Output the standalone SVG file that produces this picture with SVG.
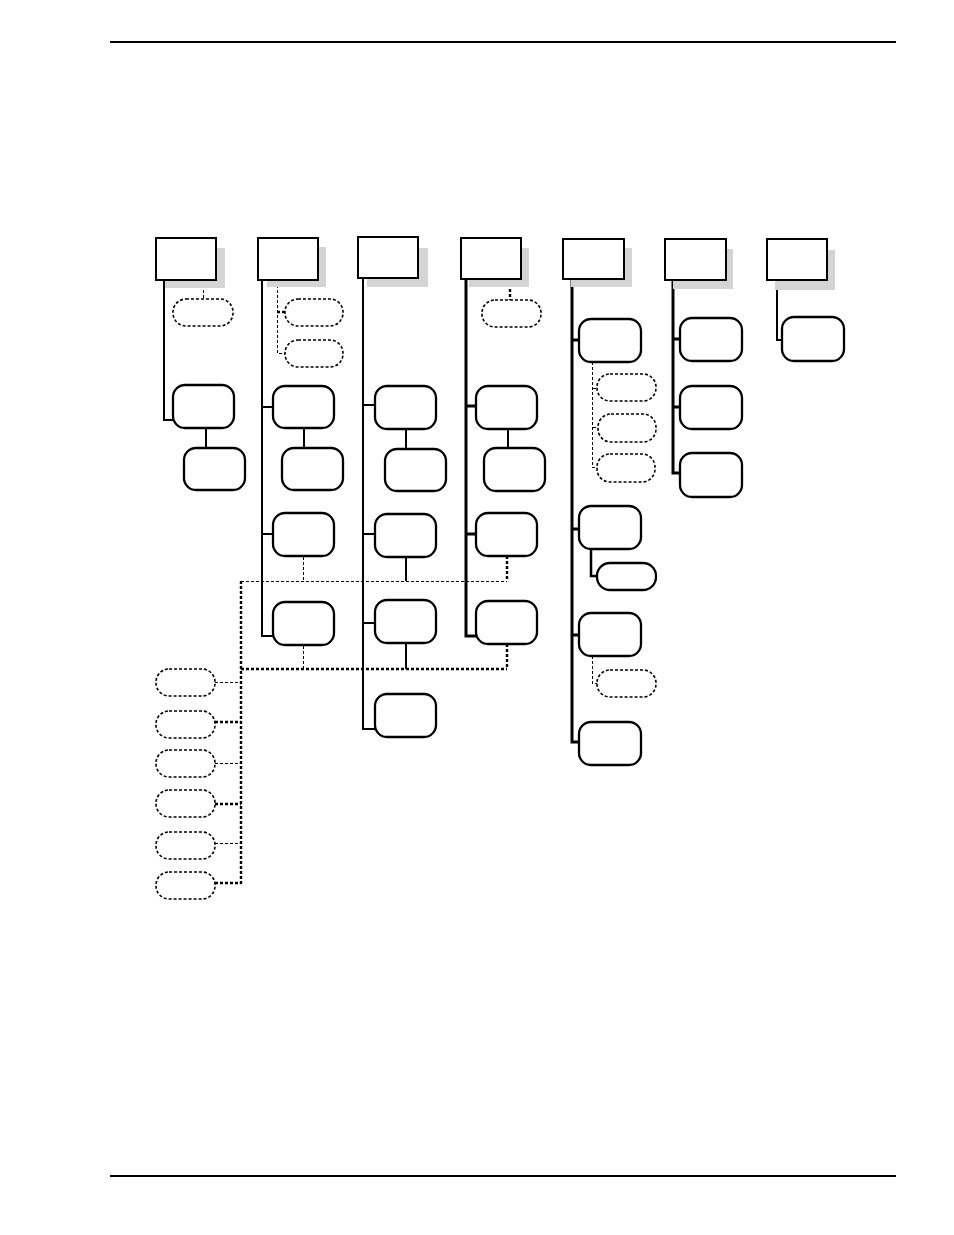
<svg xmlns="http://www.w3.org/2000/svg" width="954" height="1235" viewBox="0 0 954 1235">
<style>
.bg{fill:#ffffff}
.rule{stroke:#000;stroke-width:2;fill:none}
.sh{fill:#d4d4d4}
.hdr{fill:#fff;stroke:#000;stroke-width:2}
.node{fill:#fff;stroke:#000;stroke-width:2.3}
.dnode{fill:#fff;stroke:#000;stroke-width:1.6;stroke-dasharray:3 2}
.ln{stroke:#000;stroke-width:2;fill:none}
.lnb{stroke:#000;stroke-width:3;fill:none}
.dl{stroke:#000;stroke-width:1;fill:none;stroke-dasharray:3 2;shape-rendering:crispEdges}
.dlb{stroke:#000;stroke-width:2.4;fill:none;stroke-dasharray:3 2}
</style>
<rect class="bg" x="0" y="0" width="954" height="1235"/>
<path class="rule" d="M110,42 H896"/>
<path class="rule" d="M110,1176 H896"/>

<g id="connectors">
  <!-- column 1 -->
  <path class="ln" d="M164,280 V420 H174"/>
  <path class="ln" d="M206,428 V448"/>
  <path class="dl" d="M203.5,280 V299"/>
  <!-- column 2 -->
  <path class="ln" d="M262,280 V636 H274"/>
  <path class="ln" d="M262,407 H273"/>
  <path class="ln" d="M262,534 H273"/>
  <path class="ln" d="M304,428 V448"/>
  <path class="dl" d="M277.5,280 V353.5 H285"/>
  <path class="dlb" d="M277,312 H285"/>
  <!-- column 3 -->
  <path class="ln" d="M363,278 V729 H376"/>
  <path class="ln" d="M363,405 H375"/>
  <path class="ln" d="M363,534 H375"/>
  <path class="ln" d="M363,623 H375"/>
  <path class="ln" d="M406,429 V449"/>
  <path class="ln" d="M406,557 V581"/>
  <path class="ln" d="M406,643 V669"/>
  <!-- column 4 -->
  <path class="lnb" d="M466,279 V636 H477"/>
  <path class="lnb" d="M466,406 H476"/>
  <path class="lnb" d="M466,534 H476"/>
  <path class="ln" d="M508,429 V448"/>
  <path class="dlb" d="M510,279 V300"/>
  <!-- column 5 -->
  <path class="lnb" d="M572,279 V742 H580"/>
  <path class="lnb" d="M572,340 H579"/>
  <path class="lnb" d="M572,529 H579"/>
  <path class="lnb" d="M572,635 H579"/>
  <path class="ln" d="M591,549 V576 H598" style="stroke-width:2.5"/>
  <path class="dl" d="M592.5,362 V467.5 H597"/>
  <path class="dl" d="M592.5,388.5 H597"/>
  <path class="dl" d="M592.5,427.5 H598"/>
  <path class="dl" d="M592.5,656 V683.5 H597"/>
  <!-- column 6 -->
  <path class="lnb" d="M673,280 V473 H681"/>
  <path class="lnb" d="M673,339 H680"/>
  <path class="lnb" d="M673,407 H680"/>
  <!-- column 7 -->
  <path class="ln" d="M777,280 V340 H783"/>
  <!-- shared dashed bus -->
  <path class="dl" d="M303.5,557 V581"/>
  <path class="dlb" d="M507,556 V581"/>
  <path class="dl" d="M241,581.5 H507" style="stroke-width:1.5"/>
  <path class="dl" d="M303.5,646 V669"/>
  <path class="dlb" d="M507,644 V669"/>
  <path class="dlb" d="M241,669 H507"/>
  <path class="dlb" d="M241,581 V884"/>
  <path class="dl" d="M215,682.5 H241"/>
  <path class="dlb" d="M215,722 H241"/>
  <path class="dl" d="M215,763.5 H241"/>
  <path class="dlb" d="M215,804 H241"/>
  <path class="dl" d="M215,843.5 H241"/>
  <path class="dlb" d="M215,883 H241"/>
</g>

<g id="h1"><rect class="sh" x="165" y="248" width="60" height="40"/><rect class="hdr" x="156" y="238" width="60" height="42"/></g>
<g id="h2"><rect class="sh" x="267" y="247" width="59" height="40"/><rect class="hdr" x="258" y="238" width="60" height="42"/></g>
<g id="h3"><rect class="sh" x="367" y="248" width="61" height="39"/><rect class="hdr" x="358" y="237" width="60" height="41"/></g>
<g id="h4"><rect class="sh" x="469" y="248" width="60" height="39"/><rect class="hdr" x="461" y="238" width="60" height="41"/></g>
<g id="h5"><rect class="sh" x="571" y="248" width="61" height="39"/><rect class="hdr" x="563" y="239" width="61" height="40"/></g>
<g id="h6"><rect class="sh" x="673" y="249" width="60" height="40"/><rect class="hdr" x="665" y="239" width="61" height="41"/></g>
<g id="h7"><rect class="sh" x="775" y="250" width="60" height="40"/><rect class="hdr" x="767" y="239" width="60" height="41"/></g>

<g id="a1"><rect class="node" x="173" y="385" width="61" height="43" rx="12"/></g>
<g id="a2"><rect class="node" x="184" y="448" width="61" height="42" rx="12"/></g>
<g id="ad"><rect class="dnode" x="173" y="299" width="60" height="27" rx="13"/></g>

<g id="b1"><rect class="node" x="273" y="386" width="61" height="42" rx="12"/></g>
<g id="b2"><rect class="node" x="282" y="448" width="61" height="42" rx="12"/></g>
<g id="b3"><rect class="node" x="273" y="513" width="61" height="43" rx="12"/></g>
<g id="b4"><rect class="node" x="273" y="602" width="61" height="43" rx="12"/></g>
<g id="bd1"><rect class="dnode" x="285" y="299" width="58" height="27" rx="13"/></g>
<g id="bd2"><rect class="dnode" x="285" y="340" width="58" height="27" rx="13"/></g>

<g id="c1"><rect class="node" x="375" y="386" width="61" height="43" rx="12"/></g>
<g id="c2"><rect class="node" x="385" y="449" width="61" height="42" rx="12"/></g>
<g id="c3"><rect class="node" x="375" y="514" width="61" height="43" rx="12"/></g>
<g id="c4"><rect class="node" x="375" y="600" width="61" height="43" rx="12"/></g>
<g id="c5"><rect class="node" x="375" y="694" width="61" height="43" rx="12"/></g>

<g id="d1"><rect class="node" x="476" y="386" width="61" height="43" rx="12"/></g>
<g id="d2"><rect class="node" x="484" y="448" width="61" height="43" rx="12"/></g>
<g id="d3"><rect class="node" x="476" y="513" width="61" height="43" rx="12"/></g>
<g id="d4"><rect class="node" x="476" y="601" width="61" height="43" rx="12"/></g>
<g id="dd"><rect class="dnode" x="482" y="300" width="59" height="27" rx="13"/></g>

<g id="e1"><rect class="node" x="579" y="319" width="62" height="43" rx="12"/></g>
<g id="ed1"><rect class="dnode" x="597" y="374" width="59" height="27" rx="13"/></g>
<g id="ed2"><rect class="dnode" x="598" y="414" width="58" height="28" rx="13"/></g>
<g id="ed3"><rect class="dnode" x="597" y="454" width="58" height="28" rx="13"/></g>
<g id="e2"><rect class="node" x="579" y="506" width="62" height="43" rx="12"/></g>
<g id="e2b"><rect class="node" x="597" y="563" width="59" height="27" rx="13"/></g>
<g id="e3"><rect class="node" x="579" y="613" width="62" height="43" rx="12"/></g>
<g id="ed4"><rect class="dnode" x="597" y="670" width="59" height="27" rx="13"/></g>
<g id="e4"><rect class="node" x="579" y="722" width="62" height="43" rx="12"/></g>

<g id="f1"><rect class="node" x="680" y="318" width="62" height="43" rx="12"/></g>
<g id="f2"><rect class="node" x="680" y="386" width="62" height="43" rx="12"/></g>
<g id="f3"><rect class="node" x="680" y="453" width="62" height="44" rx="12"/></g>

<g id="g1"><rect class="node" x="782" y="317" width="62" height="44" rx="12"/></g>

<g id="l1"><rect class="dnode" x="156" y="669" width="59" height="27" rx="13"/></g>
<g id="l2"><rect class="dnode" x="156" y="711" width="59" height="27" rx="13"/></g>
<g id="l3"><rect class="dnode" x="156" y="750" width="59" height="27" rx="13"/></g>
<g id="l4"><rect class="dnode" x="156" y="790" width="59" height="27" rx="13"/></g>
<g id="l5"><rect class="dnode" x="156" y="832" width="59" height="27" rx="13"/></g>
<g id="l6"><rect class="dnode" x="156" y="872" width="59" height="27" rx="13"/></g>
</svg>
